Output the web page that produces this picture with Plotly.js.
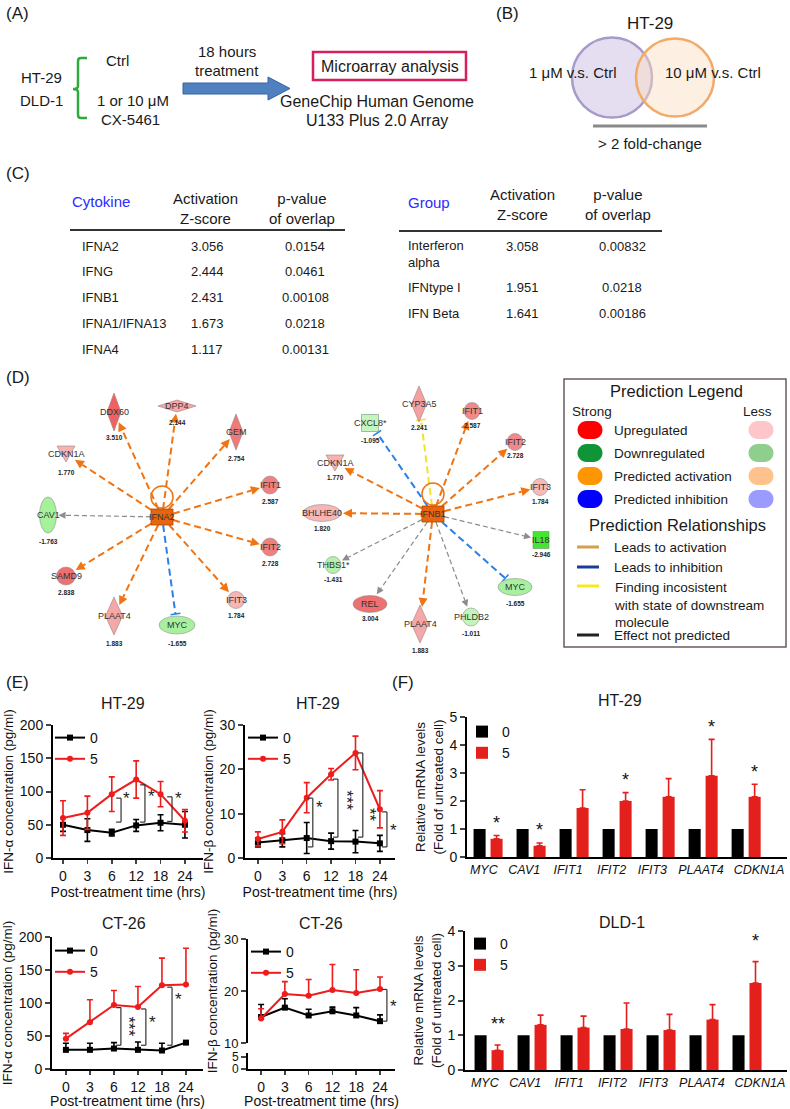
<!DOCTYPE html>
<html><head><meta charset="utf-8">
<script src="https://cdn.plot.ly/plotly-3.0.1.min.js"></script>
<style>html,body{margin:0;padding:0;background:#fff;}#chart{width:790px;height:1109px;}</style>
</head><body><div id="chart"></div>
<script>
const W=790,H=1109;
const F='Liberation Sans, Arial, Helvetica, sans-serif';

// ---------------- DATA ----------------
const timeLabels=['0','3','6','12','18','24'];
const doseLabels=['0','5'];
const ht29AlphaCtrl=[50,42,38,49,53,50];
const ht29AlphaCtrlErr=[10,17,5,9,12,20];
const ht29AlphaCX=[60,68,96,118,96,56];
const ht29AlphaCXErr=[26,25,26,28,19,17];
const ht29BetaCtrl=[3.5,4,4.5,3.8,3.7,3.3];
const ht29BetaCtrlErr=[1,1.5,3.5,1.8,2.5,1.8];
const ht29BetaCX=[4.3,5.9,13.6,18.9,23.7,11];
const ht29BetaCXErr=[1.6,2.7,3.4,1.3,3.8,4.2];
const ct26AlphaCtrl=[29,29,31,29,28,40];
const ct26AlphaCtrlErr=[10,10,9,12,11,2];
const ct26AlphaCX=[46,71,97,94,127,128];
const ct26AlphaCXErr=[8,34,22,31,41,55];
const ct26BetaCtrl=[15,16.8,15.3,16.1,15.3,14.2];
const ct26BetaCtrlErr=[2.4,1.7,1.2,0.8,1.5,1.2];
const ct26BetaCX=[14.7,19.4,19.1,20.2,19.6,20.4];
const ct26BetaCXErr=[1.9,2.4,3.1,4.9,4.5,2.3];

const genes=['MYC','CAV1','IFIT1','IFIT2','IFIT3','PLAAT4','CDKN1A'];
const ht29Ctrl=[1,1,1,1,1,1,1];
const ht29CX=[0.65,0.4,1.75,2.0,2.15,2.9,2.15];
const ht29CXErr=[0.12,0.1,0.65,0.3,0.65,1.3,0.45];
const ht29Stars=['*','*','','*','','*','*'];
const dld1Ctrl=[1,1,1,1,1,1,1];
const dld1CX=[0.57,1.3,1.22,1.18,1.15,1.45,2.5];
const dld1CXErr=[0.15,0.28,0.33,0.75,0.45,0.43,0.62];
const dld1Stars=['**','','','','','','*'];

const cytokines=['IFNA2','IFNG','IFNB1','IFNA1/IFNA13','IFNA4'];
const cytoZ=['3.056','2.444','2.431','1.673','1.117'];
const cytoP=['0.0154','0.0461','0.00108','0.0218','0.00131'];
const groupNames=['Interferon<br>alpha','IFNtype I','IFN Beta'];
const groupZ=['3.058','1.951','1.641'];
const groupP=['0.00832','0.0218','0.00186'];

const hubs=['IFNA2','IFNB1'];
const ifna2Targets=['DDX60','DPP4','GEM','CDKN1A','IFIT1','CAV1','IFIT2','SAMD9','IFIT3','PLAAT4','MYC'];
const ifna2Values=['3.510','2.144','2.754','1.770','2.587','-1.763','2.728','2.838','1.784','1.883','-1.655'];
const ifna2Edges=['act','act','act','act','act','none','act','act','act','act','inh'];
const ifnb1Targets=['CYP3A5','CXCL8*','IFIT1','IFIT2','IFIT3','CDKN1A','BHLHE40','IL18','THBS1*','MYC','REL','PLAAT4','PHLDB2'];
const ifnb1Values=['2.241','-1.095','2.587','2.728','1.784','1.770','1.820','-2.946','-1.431','-1.655','3.004','1.883','-1.011'];
const ifnb1Edges=['inc','inh','act','act','act','act','act','none','none','inh','none','act','none'];

const legendStates=['Upregulated','Downregulated','Predicted activation','Predicted inhibition'];
const legendRels=['Leads to activation','Leads to inhibition','Finding incosistent<br>with state of downstream<br>molecule','Effect not predicted'];

// ---------------- LAYOUT HELPERS ----------------
const shapes=[],ann=[];
function txt(t,x,y,size,o={}){ann.push({text:t,x:x,y:y,xref:o.xref||'x',yref:o.yref||'y',showarrow:false,
  xanchor:o.xa||'center',yanchor:o.ya||'middle',textangle:o.rot||0,align:o.align||'center',
  font:{family:F,size:size,color:o.color||'#1a1a1a',weight:o.weight||'normal'}});}
function ln(x0,y0,x1,y1,color,width,dash,xref,yref){shapes.push({type:'line',x0:x0,y0:y0,x1:x1,y1:y1,xref:xref||'x',yref:yref||'y',line:{color:color,width:width,dash:dash||'solid'}});}
function pathS(p,fill,lc,lw){shapes.push({type:'path',xref:'x',yref:'y',path:p,fillcolor:fill,line:{color:lc||fill,width:lw===undefined?0:lw}});}
function pill(cx,cy,w,h,fill){const r=h/2,k=0.5523*r,x0=cx-w/2,x1=cx+w/2,y0=cy-h/2,y1=cy+h/2;
  pathS(`M${x0+r},${y0} L${x1-r},${y0} C${x1-r+k},${y0} ${x1},${cy-k} ${x1},${cy} C${x1},${cy+k} ${x1-r+k},${y1} ${x1-r},${y1} L${x0+r},${y1} C${x0+r-k},${y1} ${x0},${cy+k} ${x0},${cy} C${x0},${cy-k} ${x0+r-k},${y0} ${x0+r},${y0} Z`,fill);}

// panel labels
[['(A)',4,13],['(B)',494,13],['(C)',4,173],['(D)',4,377],['(E)',4,682],['(F)',390,682]].forEach(p=>txt(p[0],p[1],p[2],17,{xa:'left'}));

// ---- Panel A ----
txt('HT-29',41,77,15);txt('DLD-1',41,100,15);
pathS('M87,58 L81,58 Q78,58 78,61 L78,86 Q78,89 73,89 Q78,89 78,92 L78,115 Q78,118 81,118 L87,118','rgba(0,0,0,0)','#2eaa3c',2.5);
txt('Ctrl',117,60,15);txt('1 or 10 μM',133,100,15);txt('CX-5461',130,119,15);
txt('18 hours',227,51,15);txt('treatment',227,70,15);
pathS('M183,83 L268,83 L268,77 L290,88.5 L268,100 L268,94 L183,94 Z','#4f80c0','#37649e',1);
shapes.push({type:'rect',xref:'x',yref:'y',x0:313,y0:52,x1:466,y1:80,line:{color:'#d81f5c',width:2.5}});
txt('Microarray analysis',390,66,16);
txt('GeneChip Human Genome',377,101,16);txt('U133 Plus 2.0 Array',377,120,16);

// ---- Panel B ----
txt('HT-29',650,23,17);
shapes.push({type:'circle',xref:'x',yref:'y',x0:572,y0:37.5,x1:652,y1:117.5,fillcolor:'rgba(205,195,228,0.55)',line:{color:'#a79bc9',width:2.5}});
shapes.push({type:'circle',xref:'x',yref:'y',x0:636,y0:38.5,x1:714,y1:116.5,fillcolor:'rgba(250,220,190,0.45)',line:{color:'#f2aa66',width:2.5}});
txt('1 μM v.s. Ctrl',573,72,15);txt('10 μM v.s. Ctrl',713,72,15);
ln(593,126,707,126,'#8a8a8a',3);
txt('> 2 fold-change',650,143,15);

// ---- Panel C ----
txt('Cytokine',70,201,15,{xa:'left',color:'#2b2bff'});
txt('Activation<br>Z-score',205,208,15);txt('p-value<br>of overlap',302,208,15);
ln(70,230,345,230,'#333',2);
const rowsL=[246,271,297,323,349];
cytokines.forEach((c,i)=>{txt(c,80,rowsL[i],13,{xa:'left'});txt(cytoZ[i],207,rowsL[i],13);txt(cytoP[i],305,rowsL[i],13);});
txt('Group',406,202,15,{xa:'left',color:'#2b2bff'});
txt('Activation<br>Z-score',522,204,15);txt('p-value<br>of overlap',618,204,15);
ln(399,231,662,231,'#333',2);
const rowsR=[254,287,313],rowsRv=[246,287,313];
groupNames.forEach((g,i)=>{txt(g,406,rowsR[i],13,{xa:'left',align:'left'});txt(groupZ[i],522,rowsRv[i],13);txt(groupP[i],622,rowsRv[i],13);});

// ---- Panel D: networks ----
const EDGE={act:{color:'#f07412',w:2,dash:'7px,4px',head:'arrow',hl:9,hw:4.5},
            none:{color:'#8c8c8c',w:1.2,dash:'5px,3px',head:'arrow',hl:7,hw:3.5},
            inh:{color:'#2a80e6',w:2,dash:'7px,4px',head:'tee'},
            inc:{color:'#f2e22a',w:2,dash:'7px,4px',head:'tee'}};
const netLeft={center:[162,517],nodes:{
 DDX60:{x:114,y:412,k:'dia',rx:7,ry:19,c:'#ee6262',vy:437},
 DPP4:{x:177,y:406,k:'dia',rx:19,ry:6,c:'#f5a8a8',vy:422},
 GEM:{x:236,y:432,k:'dia',rx:7,ry:18,c:'#f07a7a',vy:458},
 CDKN1A:{x:66,y:454,k:'tri',rx:9,ry:8,c:'#f7b2b2',vy:472},
 IFIT1:{x:270,y:485,k:'ell',rx:8.5,ry:9,c:'#f08080',vy:501},
 CAV1:{x:48,y:515,k:'ell',rx:8.5,ry:18,c:'#a6f29a',vy:541},
 IFIT2:{x:270,y:547,k:'ell',rx:8.5,ry:9,c:'#f08080',vy:563},
 SAMD9:{x:66,y:576,k:'ell',rx:9.5,ry:9,c:'#ee7070',vy:592},
 IFIT3:{x:236,y:600,k:'ell',rx:8.5,ry:8.5,c:'#f6b4b4',vy:615},
 PLAAT4:{x:114,y:616,k:'dia',rx:8.5,ry:19,c:'#f5a8a8',vy:643},
 MYC:{x:177,y:625,k:'ell',rx:18,ry:9,c:'#a8f0a0',vy:643}}};
const netRight={center:[433,514],nodes:{
 CYP3A5:{x:419,y:404,k:'dia',rx:7.5,ry:18,c:'#f5a0a0',vy:427},
 'CXCL8*':{x:370,y:423,k:'rect',rx:8.5,ry:8.5,c:'#c6f5bf',vy:440},
 IFIT1:{x:472,y:411,k:'ell',rx:8,ry:8.5,c:'#f08a8a',vy:425},
 IFIT2:{x:515,y:442,k:'ell',rx:8,ry:8.5,c:'#f08a8a',vy:455},
 IFIT3:{x:540,y:487,k:'ell',rx:8,ry:8.5,c:'#f7baba',vy:501},
 CDKN1A:{x:335,y:463,k:'tri',rx:9,ry:8,c:'#f7b2b2',vy:477},
 BHLHE40:{x:322,y:513,k:'ell',rx:19,ry:8.5,c:'#f6b6b6',vy:528},
 IL18:{x:541,y:540,k:'rect',rx:8,ry:8.5,c:'#44e632',vy:554},
 'THBS1*':{x:333,y:565,k:'ell',rx:8,ry:8.5,c:'#b2f2aa',vy:579},
 MYC:{x:515,y:587,k:'ell',rx:17,ry:8.5,c:'#a8f0a0',vy:603},
 REL:{x:370,y:604,k:'ell',rx:17,ry:8.5,c:'#ee7070',vy:618},
 PLAAT4:{x:420,y:624,k:'dia',rx:8.5,ry:19,c:'#f5a8a8',vy:650},
 PHLDB2:{x:471,y:617,k:'ell',rx:8.5,ry:9,c:'#c2f5ba',vy:633}}};

function drawNetwork(hub,names,values,edges,lay){
  const cx=lay.center[0],cy=lay.center[1];
  names.forEach((n,i)=>{
    const nd=lay.nodes[n];const dx=nd.x-cx,dy=nd.y-cy,L=Math.hypot(dx,dy),ux=dx/L,uy=dy/L;
    let t;
    if(nd.k==='dia')t=1/(Math.abs(ux)/nd.rx+Math.abs(uy)/nd.ry);
    else if(nd.k==='rect')t=Math.min(nd.rx/Math.max(Math.abs(ux),1e-6),nd.ry/Math.max(Math.abs(uy),1e-6));
    else t=1/Math.sqrt((ux/nd.rx)**2+(uy/nd.ry)**2);
    const ex=nd.x-ux*(t+2),ey=nd.y-uy*(t+2);
    const ts=Math.min(11/Math.max(Math.abs(ux),1e-6),8/Math.max(Math.abs(uy),1e-6));
    const sx=cx+ux*ts,sy=cy+uy*ts;
    const st=EDGE[edges[i]];const px=-uy,py=ux;
    if(st.head==='arrow'){
      const bx=ex-ux*st.hl,by=ey-uy*st.hl;
      ln(sx,sy,bx,by,st.color,st.w,st.dash);
      pathS(`M${ex},${ey} L${bx+px*st.hw},${by+py*st.hw} L${bx-px*st.hw},${by-py*st.hw} Z`,st.color);
    } else {
      ln(sx,sy,ex,ey,st.color,st.w,st.dash);
      ln(ex+px*5,ey+py*5,ex-px*5,ey-py*5,st.color,1.5,'solid');
    }
  });
  shapes.push({type:'circle',xref:'x',yref:'y',x0:cx-11,y0:cy-31,x1:cx+11,y1:cy-9,line:{color:'#f07412',width:1.5}});
  names.forEach((n,i)=>{
    const nd=lay.nodes[n];const x=nd.x,y=nd.y,rx=nd.rx,ry=nd.ry;
    if(nd.k==='dia')pathS(`M${x},${y-ry} L${x+rx},${y} L${x},${y+ry} L${x-rx},${y} Z`,nd.c,'#a08080',0.6);
    else if(nd.k==='tri')pathS(`M${x-rx},${y-ry} L${x+rx},${y-ry} L${x},${y+ry} Z`,nd.c,'#a08080',0.6);
    else if(nd.k==='rect')shapes.push({type:'rect',xref:'x',yref:'y',x0:x-rx,y0:y-ry,x1:x+rx,y1:y+ry,fillcolor:nd.c,line:{color:'#709070',width:0.6}});
    else shapes.push({type:'circle',xref:'x',yref:'y',x0:x-rx,y0:y-ry,x1:x+rx,y1:y+ry,fillcolor:nd.c,line:{color:'#909090',width:0.6}});
    txt(n,x,y,9,{color:'#333'});
    txt(values[i],x,nd.vy,6.5,{weight:'bold',color:'#222'});
  });
  shapes.push({type:'rect',xref:'x',yref:'y',x0:cx-11,y0:cy-8,x1:cx+11,y1:cy+8,fillcolor:'#e8650e',line:{color:'#a84800',width:0.8}});
  txt(hub,cx,cy,9,{color:'#333'});
}
drawNetwork(hubs[0],ifna2Targets,ifna2Values,ifna2Edges,netLeft);
drawNetwork(hubs[1],ifnb1Targets,ifnb1Values,ifnb1Edges,netRight);

// Prediction legend box
shapes.push({type:'rect',xref:'x',yref:'y',x0:564,y0:379,x1:786,y1:647,line:{color:'#6b5b5b',width:1.5}});
txt('Prediction Legend',676,391,16.5);
txt('Strong',570,411,13.5,{xa:'left'});txt('Less',774,411,13.5,{xa:'right'});
const strongC=['#ff0000','#0f9438','#ff9500','#0000ff'],lessC=['#ffc6ca','#8ecf8e','#ffc28c','#9a9aff'];
const rowY=[430,453,476,499];
legendStates.forEach((s,i)=>{pill(590,rowY[i],25,18,strongC[i]);pill(761,rowY[i],25,18,lessC[i]);txt(s,612,rowY[i],13.5,{xa:'left'});});
txt('Prediction Relationships',677,525,16.5);
const relC=['#d4a04c','#1a3c9a','#f7ea1c','#222222'];
const relY=[547,567,586,635];const relTY=[547,567,605,635];
legendRels.forEach((s,i)=>{ln(577,relY[i],599,relY[i],relC[i],3);txt(s,612,relTY[i],13.5,{xa:'left',align:'left'});});

// ---- Panel E & F titles ----
txt('HT-29',123,703,16);txt('HT-29',318,703,16);
txt('CT-26',124,923,16);txt('CT-26',321,923,16);
txt('HT-29',620,700,16);txt('DLD-1',622,922,16);

// significance brackets (chart coordinates: category index, value)
const brackets=[
 {ax:['x2','y2'],x:2.38,top:90,bot:54,s:'*',sx:2.62,sy:89,rot:0},
 {ax:['x2','y2'],x:3.36,top:110,bot:54,s:'*',sx:3.62,sy:92,rot:0},
 {ax:['x2','y2'],x:4.47,top:92,bot:55,s:'*',sx:4.72,sy:89,rot:0},
 {ax:['x3','y3'],x:2.25,top:13.5,bot:2.5,s:'*',sx:2.52,sy:11.3,rot:0},
 {ax:['x3','y3'],x:3.28,top:17.8,bot:4.7,s:'***',sx:3.62,sy:13,rot:90},
 {ax:['x3','y3'],x:4.3,top:23.7,bot:4.7,s:'**',sx:4.6,sy:9.7,rot:90},
 {ax:['x3','y3'],x:5.29,top:10.4,bot:2.5,s:'*',sx:5.55,sy:6.3,rot:0},
 {ax:['x4','y4'],x:2.29,top:93,bot:36,s:'***',sx:2.6,sy:64,rot:90},
 {ax:['x4','y4'],x:3.33,top:91,bot:36,s:'*',sx:3.62,sy:70,rot:0},
 {ax:['x4','y4'],x:4.42,top:124,bot:36,s:'*',sx:4.7,sy:105,rot:0},
 {ax:['x5','y5'],x:5.29,top:20.3,bot:14.2,s:'*',sx:5.55,sy:17,rot:0}];
brackets.forEach(b=>{const xr=b.ax[0],yr=b.ax[1];
  ln(b.x-0.2,b.top,b.x,b.top,'#333',1.2,'solid',xr,yr);
  ln(b.x,b.top,b.x,b.bot,'#333',1.2,'solid',xr,yr);
  ln(b.x-0.2,b.bot,b.x,b.bot,'#333',1.2,'solid',xr,yr);
  txt(b.s,b.sx,b.sy,17,{xref:xr,yref:yr,rot:b.rot,color:'#222'});});

// star annotations for bar charts
ht29Stars.forEach((s,i)=>{if(s)txt(s,i+0.2,ht29CX[i]+ht29CXErr[i]+0.45,18,{xref:'x7',yref:'y7',color:'#111'});});
dld1Stars.forEach((s,i)=>{if(s)txt(s,i+0.2,dld1CX[i]+dld1CXErr[i]+0.6,18,{xref:'x8',yref:'y8',color:'#111'});});

// ---------------- TRACES ----------------
const BLK='#000000',RED='#ee1c1c';
function lineTr(y,err,errMinus,color,sym,name,xa,ya,leg){
  const e={type:'data',array:err,visible:true,color:color,thickness:1.6,width:3};
  if(errMinus){e.symmetric=false;e.arrayminus=errMinus;}
  return {type:'scatter',mode:'lines+markers',x:timeLabels,y:y,error_y:e,line:{color:color,width:2},
    marker:{symbol:sym,size:6,color:color},name:name,xaxis:xa,yaxis:ya,legend:leg,hoverinfo:'skip',cliponaxis:false};
}
const zero6=[0,0,0,0,0,0];
function barTr(y,err,color,name,xa,ya,leg){
  const t={type:'bar',x:genes,y:y,marker:{color:color,line:{width:0}},name:name,xaxis:xa,yaxis:ya,legend:leg,hoverinfo:'skip'};
  if(err)t.error_y={type:'data',array:err,symmetric:false,arrayminus:err.map(()=>0),color:color,thickness:1.6,width:3};
  return t;
}
const traces=[
 {type:'scatter',x:[],y:[],xaxis:'x',yaxis:'y',showlegend:false},
 lineTr(ht29AlphaCtrl,ht29AlphaCtrlErr,null,BLK,'square',doseLabels[0],'x2','y2','legend'),
 lineTr(ht29AlphaCX,ht29AlphaCXErr,null,RED,'circle',doseLabels[1],'x2','y2','legend'),
 lineTr(ht29BetaCtrl,ht29BetaCtrlErr,null,BLK,'square',doseLabels[0],'x3','y3','legend2'),
 lineTr(ht29BetaCX,ht29BetaCXErr,null,RED,'circle',doseLabels[1],'x3','y3','legend2'),
 lineTr(ct26AlphaCtrl,ct26AlphaCtrlErr,zero6,BLK,'square',doseLabels[0],'x4','y4','legend3'),
 lineTr(ct26AlphaCX,ct26AlphaCXErr,zero6,RED,'circle',doseLabels[1],'x4','y4','legend3'),
 lineTr(ct26BetaCtrl,ct26BetaCtrlErr,zero6,BLK,'square',doseLabels[0],'x5','y5','legend4'),
 lineTr(ct26BetaCX,ct26BetaCXErr,zero6,RED,'circle',doseLabels[1],'x5','y5','legend4'),
 {type:'scatter',x:[],y:[],xaxis:'x5',yaxis:'y6',showlegend:false},
 barTr(ht29Ctrl,null,BLK,doseLabels[0],'x7','y7','legend5'),
 barTr(ht29CX,ht29CXErr,'#e3201b',doseLabels[1],'x7','y7','legend5'),
 barTr(dld1Ctrl,null,BLK,doseLabels[0],'x8','y8','legend6'),
 barTr(dld1CX,dld1CXErr,'#e3201b',doseLabels[1],'x8','y8','legend6')
];

// ---------------- AXES ----------------
const tf={family:F,size:14,color:'#111'};
// gene label placement (category index offsets, as in the original figure)
const geneTickShift=[-0.1,-0.16,-0.14,-0.13,-0.18,-0.05,0.3];
function catX(x0,x1,r,anchor,title,cats,italic){
  const a={domain:[x0/W,x1/W],range:r,type:'category',categoryorder:'array',categoryarray:cats,anchor:anchor,tickangle:0,
    showline:true,linecolor:'#000',linewidth:2,ticks:italic?'':'outside',ticklen:4,tickwidth:1.5,
    tickfont:italic?{family:F,size:12.5,color:'#111',style:'italic'}:tf,showgrid:false,zeroline:false,fixedrange:true,
    title:{text:title,font:{family:F,size:14,color:'#111'},standoff:2}};
  if(italic){a.tickmode='array';a.tickvals=cats.map((c,i)=>i+geneTickShift[i]);a.ticktext=cats;}
  return a;
}
function linY(top,bot,r,tv,anchor,title,fs,tfs){
  return {domain:[1-bot/H,1-top/H],range:r,tickvals:tv,anchor:anchor,showline:true,linecolor:'#000',linewidth:2,
    ticks:'outside',ticklen:5,tickwidth:2,tickfont:tfs?{family:F,size:tfs,color:'#111'}:tf,showgrid:false,zeroline:false,fixedrange:true,
    title:{text:title,font:{family:F,size:fs||13.5,color:'#111'},standoff:3}};
}
const PT='Post-treatment time (hrs)';
function leg(x,y){return {x:x/W,y:1-y/H,xanchor:'left',yanchor:'top',bgcolor:'rgba(0,0,0,0)',font:{family:F,size:14,color:'#111'},
  itemwidth:30,tracegroupgap:0,itemclick:false,itemdoubleclick:false};}

const layout={
  width:W,height:H,margin:{l:0,r:0,t:0,b:0},paper_bgcolor:'#fff',plot_bgcolor:'rgba(0,0,0,0)',
  showlegend:true,barmode:'group',bargap:0.21,bargroupgap:0.29,
  font:{family:F,color:'#111'},
  xaxis:{domain:[0,1],range:[0,W],visible:false,fixedrange:true},
  yaxis:{domain:[0,1],range:[H,0],visible:false,fixedrange:true},
  xaxis2:catX(53,203,[-0.41,5.74],'y2',PT,timeLabels),
  yaxis2:linY(725,858,[0,200],[0,50,100,150,200],'x2','IFN-α concentration (pg/ml)'),
  xaxis3:catX(245,395,[-0.53,5.62],'y3',PT,timeLabels),
  yaxis3:linY(725,858,[0,30],[0,10,20,30],'x3','IFN-β concentration (pg/ml)'),
  xaxis4:catX(52,203,[-0.58,5.71],'y4',PT,timeLabels),
  yaxis4:linY(937,1069,[0,200],[0,50,100,150,200],'x4','IFN-α concentration (pg/ml)'),
  xaxis5:catX(248,395,[-0.55,5.63],'y6',PT,timeLabels),
  yaxis5:linY(939,1043,[10,30],[10,20,30],'x5','IFN-β concentration (pg/ml)',13.5,13),
  yaxis6:linY(1053,1069,[0,6.5],[0,5],'x5','',13.5,12),
  xaxis7:catX(467,787,[-0.49,6.95],'y7','',genes,true),
  yaxis7:linY(717,857,[0,5],[0,1,2,3,4,5],'x7','Relative mRNA levels<br>(Fold of untreated cell)',13.5),
  xaxis8:catX(465,787,[-0.56,6.93],'y8','',genes,true),
  yaxis8:linY(931,1070,[0,4],[0,1,2,3,4],'x8','Relative mRNA levels<br>(Fold of untreated cell)',13.5),
  legend:leg(50,722),legend2:leg(243,722),legend3:leg(50,935),legend4:leg(246,936),
  legend5:leg(462,716),legend6:leg(460,928),
  shapes:shapes,annotations:ann
};
Plotly.newPlot('chart',traces,layout,{staticPlot:true,displayModeBar:false});
</script></body></html>
